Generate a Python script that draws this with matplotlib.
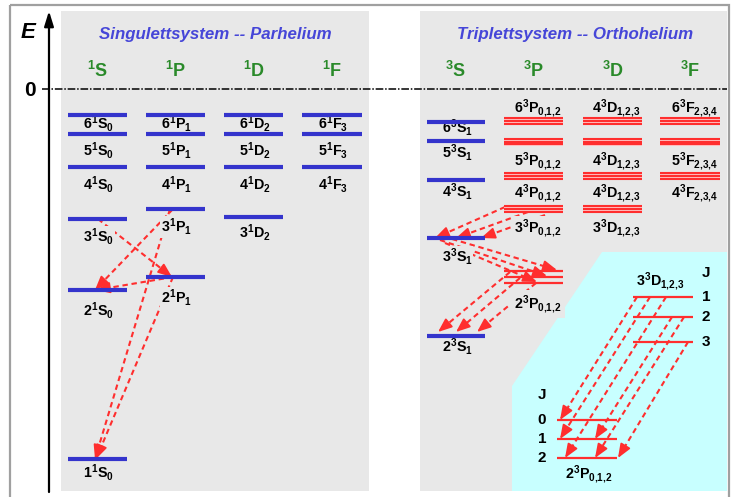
import matplotlib
matplotlib.use('Agg')
import matplotlib.pyplot as plt
from matplotlib.patches import Rectangle, Polygon
import numpy as np

plt.rcParams['font.family'] = ['Liberation Sans', 'DejaVu Sans']
plt.rcParams['mathtext.fontset'] = 'custom'
plt.rcParams['mathtext.rm'] = 'Liberation Sans'
plt.rcParams['mathtext.bf'] = 'Liberation Sans:bold'
plt.rcParams['mathtext.it'] = 'Liberation Sans:italic'

# ---------------- data ----------------
titles = ['Singulettsystem -- Parhelium', 'Triplettsystem -- Orthohelium']
sing_terms = ['S', 'P', 'D', 'F']
sing_J = ['0', '1', '2', '3']
trip_terms = ['S', 'P', 'D', 'F']
trip_J = ['1', '0,1,2', '1,2,3', '2,3,4']

# singlet level energies (diagram units, larger = lower)
sing_S_n = [1, 2, 3, 4, 5, 6]
sing_S_E = [459, 290, 219, 167, 134, 115]
sing_P_n = [2, 3, 4, 5, 6]
sing_P_E = [277, 209, 167, 134, 115]
sing_D_n = [3, 4, 5, 6]
sing_D_E = [217, 167, 134, 115]
sing_F_n = [4, 5, 6]
sing_F_E = [167, 134, 115]

# triplet level energies
trip_S_n = [2, 3, 4, 5, 6]
trip_S_E = [336, 238, 180, 141, 122]
trip_P_n = [2, 3, 4, 5, 6]
trip_P_E = [277, 209, 176, 141.5, 121]
trip_D_n = [3, 4, 4, 4]
trip_D_E = [209, 176, 141.5, 121]
trip_F_n = [4, 5, 6]
trip_F_E = [176, 141.5, 121]

# fine structure of 2^3P (main panel)
p2_fine_E = [271, 277, 283]

# transitions (x0, E0, x1, E1)
sing_trans = [(98, 219, 172, 277), (173, 209, 95, 290), (173, 277, 96, 290),
              (170, 209, 95, 459), (173, 277, 96, 459)]
trip_trans = [(505, 207, 435, 238), (528, 212, 456, 238), (545, 215, 481, 238),
              (452, 239, 557, 270), (440, 240, 547, 276), (445, 243, 537, 282),
              (510, 272, 438, 332), (520, 278, 456, 332), (536, 283, 477, 332)]

# inset: 3^3D_J -> 2^3P_J
insD_J = ['1', '2', '3']
insD_E = [297, 317, 342]
insP_J = ['0', '1', '2']
insP_E = [420, 439, 458]
ins_trans_from = [0, 0, 0, 1, 1, 2]   # index into insD
ins_trans_to = [0, 1, 2, 1, 2, 2]     # index into insP
ins_x0 = [637, 650, 666, 672, 684, 688]
ins_x1 = [560, 560, 565, 595, 595, 618]

# ---------------- layout / style ----------------
W, H = 734, 497
GRAY = '#e8e8e8'
BLUE = '#3434cc'
RED = '#ff2e2e'
GREEN = '#2a8a2a'
TITLE = '#4646d8'


def sub(s):
    return s.replace(',', '{,}')


fig = plt.figure(figsize=(W / 100, H / 100), dpi=100)
ax = fig.add_axes([0, 0, 1, 1])
ax.set_xlim(0, W)
ax.set_ylim(H, 0)
ax.axis('off')

# outer frame
ax.add_patch(Rectangle((9.5, 5), 719.5, 520, fill=False, ec='#a0a0a0', lw=1.6, zorder=0))
# panels
ax.add_patch(Rectangle((61, 11), 308, 480, fc=GRAY, ec='none', zorder=0.5))
ax.add_patch(Rectangle((420, 11), 307, 480, fc=GRAY, ec='none', zorder=0.5))
ax.add_patch(Polygon([(602, 252), (727, 252), (727, 491), (512, 491), (512, 386)],
                     closed=True, fc='#c8ffff', ec='none', zorder=0.6))

# energy axis
ax.annotate('', xy=(49, 11), xytext=(49, 492),
            arrowprops=dict(arrowstyle='-|>,head_length=0.9,head_width=0.28', lw=1.6,
                            color='black', shrinkA=0, shrinkB=0), zorder=5)
ax.text(28, 32, 'E', fontsize=16, fontweight='bold', fontstyle='italic', ha='center', va='center')
ax.text(30, 91, '0', fontsize=15, fontweight='bold', ha='center', va='center')
ax.plot([42, 727], [89, 89], color='black', lw=1.1, ls=(0, (5, 1.2, 1, 1.2)), zorder=5)

# titles
ax.text(215, 34, titles[0], fontsize=12.2, fontweight='bold', fontstyle='italic',
        color=TITLE, ha='center', va='center')
ax.text(575, 34, titles[1], fontsize=12.2, fontweight='bold', fontstyle='italic',
        color=TITLE, ha='center', va='center')

sing_x = [(68, 127), (146, 205), (224, 283), (302, 362)]
trip_x = [(427, 485), (504, 563), (583, 642), (660, 720)]

for i, t in enumerate(sing_terms):
    cx = sum(sing_x[i]) / 2
    ax.text(cx, 71, r'${}^{\mathbf{1}}\mathbf{%s}$' % t, fontsize=13, color=GREEN,
            ha='center', va='center')
for i, t in enumerate(trip_terms):
    cx = sum(trip_x[i]) / 2
    ax.text(cx, 71, r'${}^{\mathbf{3}}\mathbf{%s}$' % t, fontsize=13, color=GREEN,
            ha='center', va='center')

lab_kw = dict(fontsize=10.3, ha='center', va='baseline', zorder=3,
              bbox=dict(fc=GRAY, ec='none', pad=0.6))


def draw_dashed_arrow(x0, y0, x1, y1, head=True):
    d = np.hypot(x1 - x0, y1 - y0)
    ux, uy = (x1 - x0) / d, (y1 - y0) / d
    ax.plot([x0, x1 - ux * 5], [y0, y1 - uy * 5], color=RED, lw=1.5,
            ls=(0, (2.6, 1.8)), zorder=2, solid_capstyle='butt')
    if head:
        ax.annotate('', xy=(x1, y1), xytext=(x1 - ux * 9, y1 - uy * 9),
                    arrowprops=dict(arrowstyle='-|>,head_length=0.6,head_width=0.24',
                                    color=RED, lw=1.3, shrinkA=0, shrinkB=0,
                                    mutation_scale=14), zorder=2.5)


# singlet levels
sing_sets = [(sing_S_n, sing_S_E), (sing_P_n, sing_P_E), (sing_D_n, sing_D_E), (sing_F_n, sing_F_E)]
sing_lab_off = {1: 19, 2: 26, 3: 23, 4: 23, 5: 22, 6: 14}
for i, (ns, Es) in enumerate(sing_sets):
    x0, x1 = sing_x[i]
    cx = (x0 + x1) / 2 + 1
    for n, E in zip(ns, Es):
        ax.plot([x0, x1], [E, E], color=BLUE, lw=3, solid_capstyle='butt', zorder=4)
        off = sing_lab_off[n]
        if i == 2 and n == 3:
            off = 21
        ax.text(cx, E + off, r'$\mathbf{%d^{1}%s_{%s}}$' % (n, sing_terms[i], sing_J[i]), **lab_kw)

for tr in sing_trans:
    draw_dashed_arrow(*tr)

# triplet S levels
trip_S_lab = {2: 16, 3: 24, 4: 17, 5: 17, 6: 11}
x0, x1 = trip_x[0]
for n, E in zip(trip_S_n, trip_S_E):
    ax.plot([x0, x1], [E, E], color=BLUE, lw=3, solid_capstyle='butt', zorder=4)
    ax.text((x0 + x1) / 2 + 1, E + trip_S_lab[n], r'$\mathbf{%d^{3}S_{1}}$' % n, **lab_kw)


def band(x0, x1, E):
    ax.add_patch(Rectangle((x0, E - 4), x1 - x0, 8, fc='#ffc4c4', ec='none', zorder=3.9))
    for dy in (-2.8, 0, 2.8):
        ax.plot([x0, x1], [E + dy, E + dy], color=RED, lw=1.5, solid_capstyle='butt', zorder=4)


# label baselines for P, D, F (above the top band, below the others)
band_lab_y = {121: 112, 141.5: 165, 176: 197, 209: 232}
for col, (ns, Es) in zip([1, 2, 3], [(trip_P_n, trip_P_E), (trip_D_n, trip_D_E), (trip_F_n, trip_F_E)]):
    x0, x1 = trip_x[col]
    cx = (x0 + x1) / 2 + 4
    for n, E in zip(ns, Es):
        txt = r'$\mathbf{%d^{3}%s_{%s}}$' % (n, trip_terms[col], sub(trip_J[col]))
        if col == 1 and n == 2:
            for e in p2_fine_E:
                ax.plot([x0, x1], [e, e], color=RED, lw=1.6, solid_capstyle='butt', zorder=4)
            ax.text(cx, 308, txt, fontsize=10.3, ha='center', va='baseline', zorder=3,
                    bbox=dict(fc=GRAY, ec='none', pad=2.5))
            continue
        band(x0, x1, E)
        ax.text(cx, band_lab_y[E], txt, **lab_kw)

for tr in trip_trans:
    draw_dashed_arrow(*tr)

# inset
for j, E in zip(insD_J, insD_E):
    ax.plot([633, 693], [E, E], color=RED, lw=1.6, solid_capstyle='butt', zorder=4)
    ax.text(706, E, j, fontsize=11, fontweight='bold', ha='center', va='center')
ax.text(706, 273, 'J', fontsize=11, fontweight='bold', ha='center', va='center')
ax.text(660, 285, r'$\mathbf{3^{3}D_{%s}}$' % sub('1,2,3'), fontsize=10.3, ha='center', va='baseline')
for j, E in zip(insP_J, insP_E):
    ax.plot([557, 617], [E, E], color=RED, lw=1.6, solid_capstyle='butt', zorder=4)
    ax.text(542, E, j, fontsize=11, fontweight='bold', ha='center', va='center')
ax.text(542, 395, 'J', fontsize=11, fontweight='bold', ha='center', va='center')
ax.text(589, 478, r'$\mathbf{2^{3}P_{%s}}$' % sub('0,1,2'), fontsize=10.3, ha='center', va='baseline')

for a, b, xs, xe in zip(ins_trans_from, ins_trans_to, ins_x0, ins_x1):
    draw_dashed_arrow(xs, insD_E[a], xe, insP_E[b])

fig.savefig('out.png', dpi=100, facecolor='white')
